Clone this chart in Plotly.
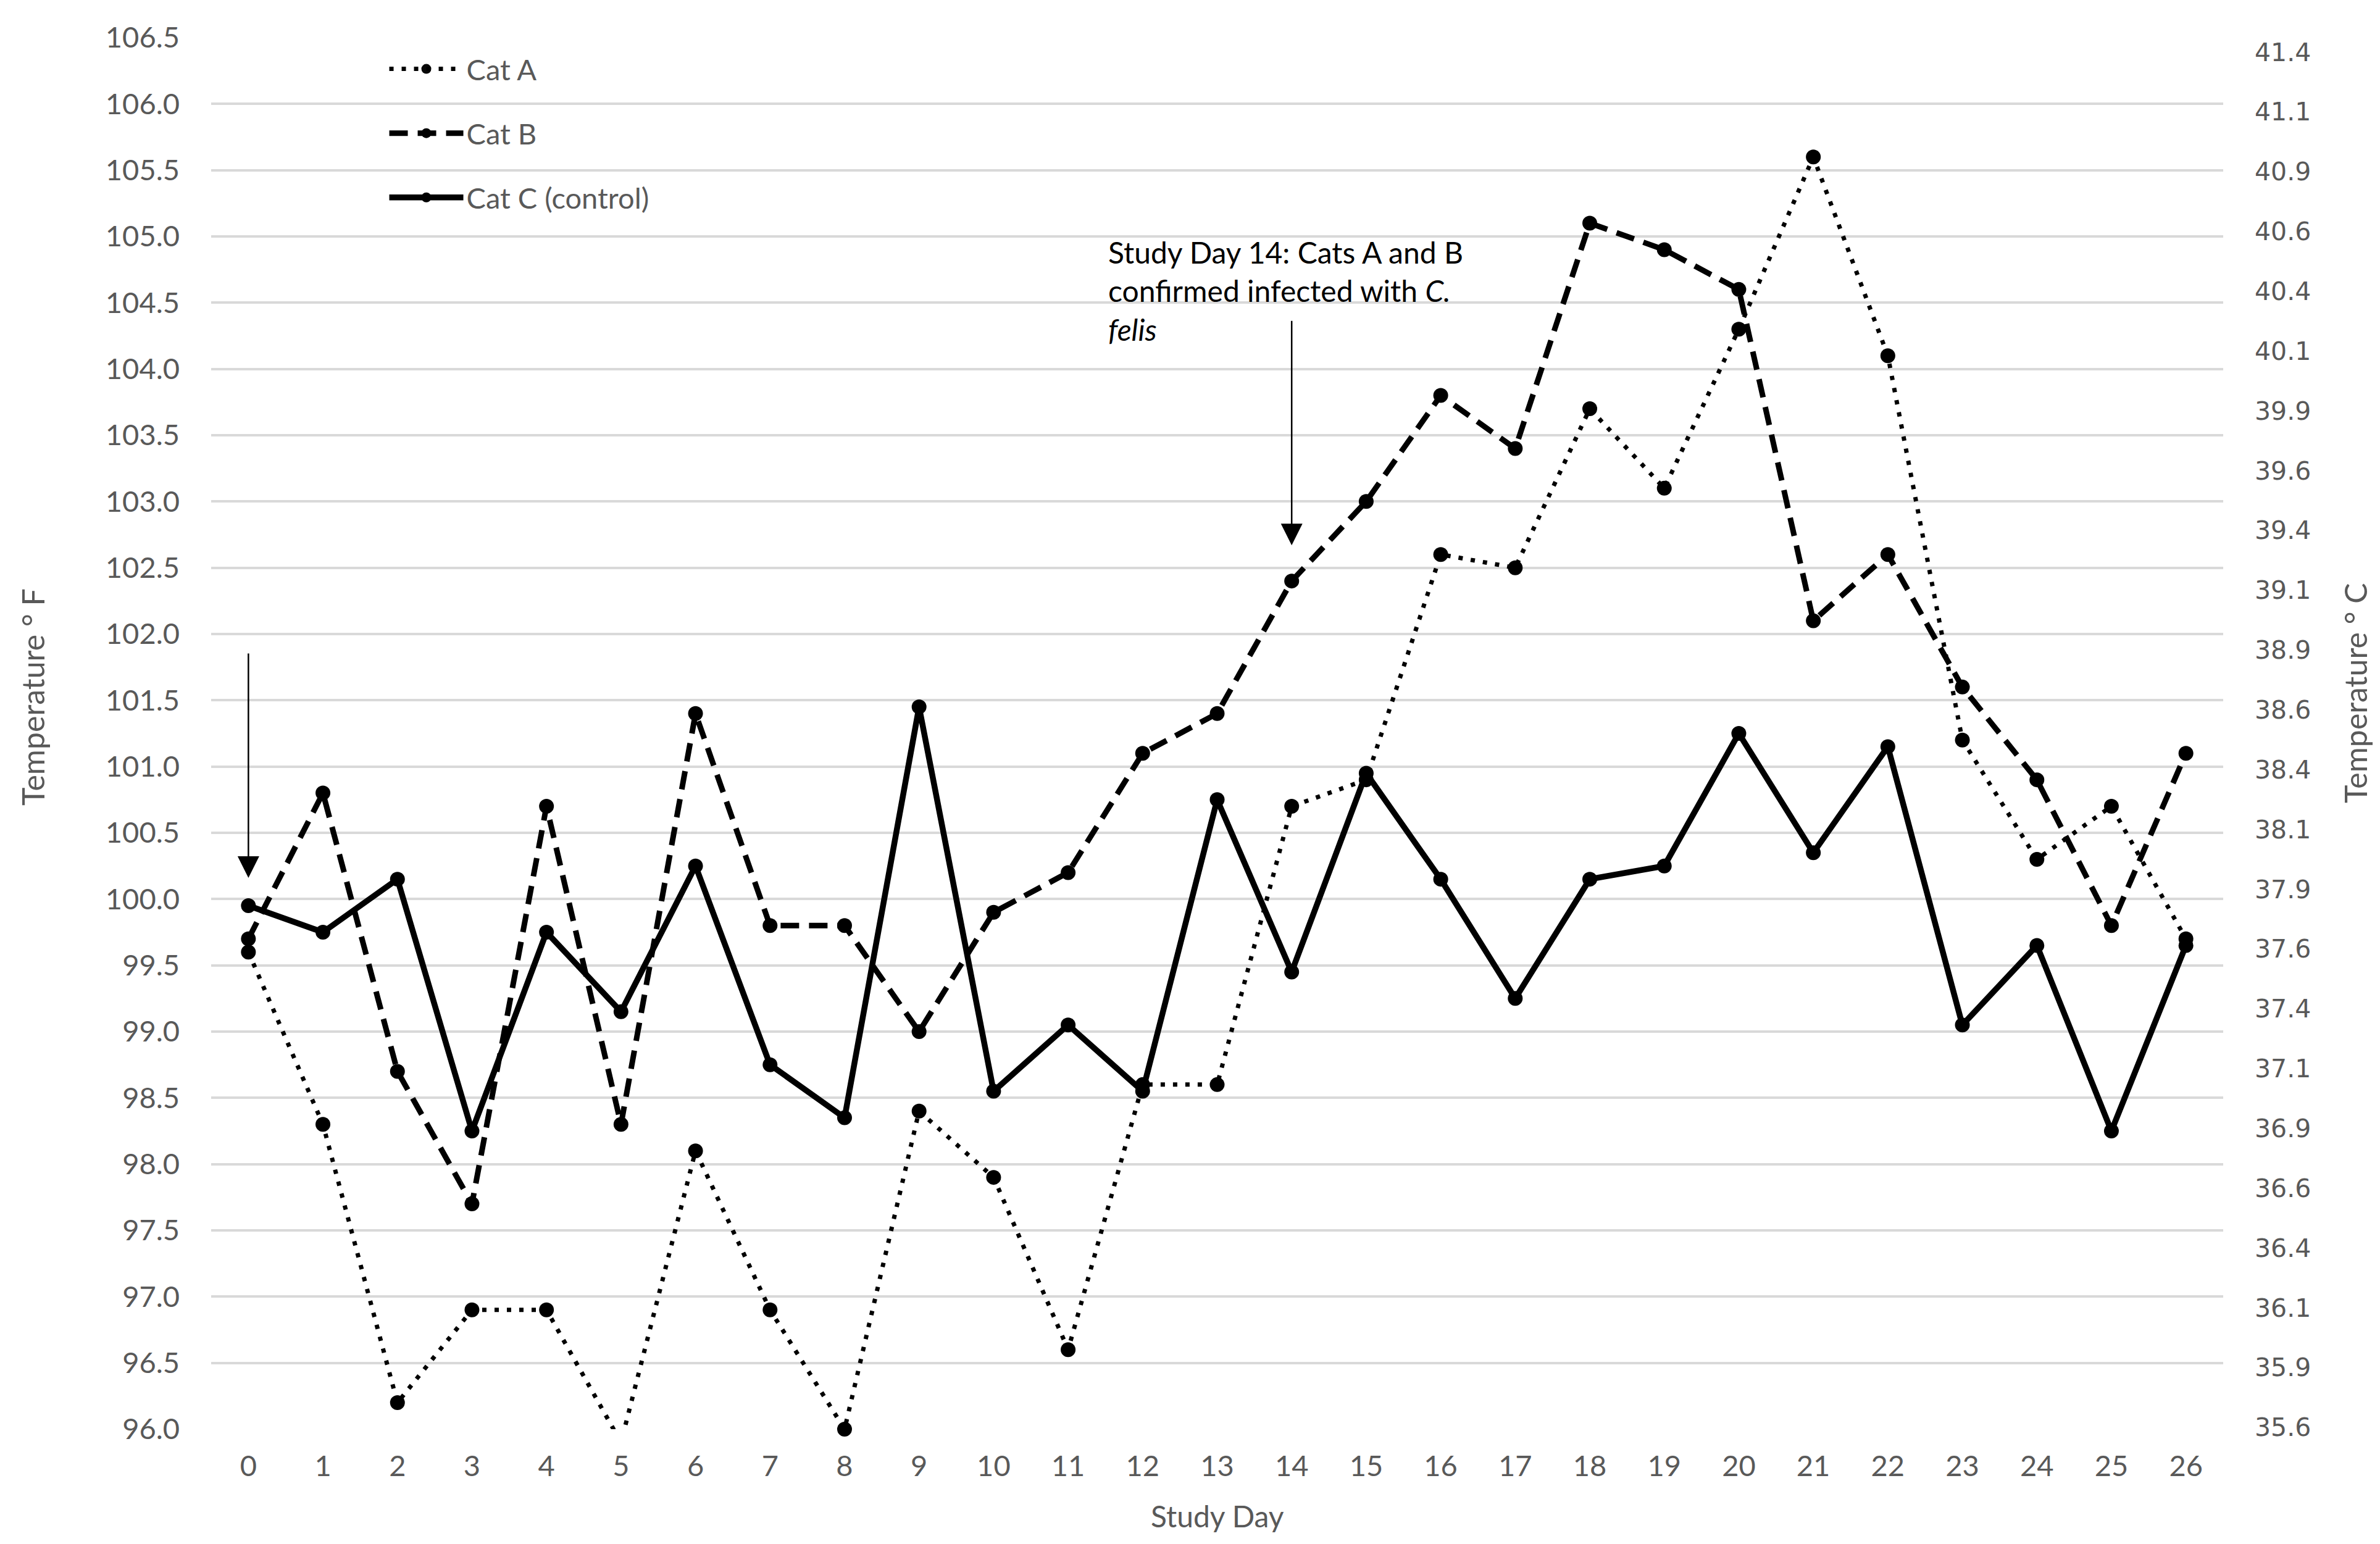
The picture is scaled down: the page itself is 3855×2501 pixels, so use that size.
import plotly.graph_objects as go

# ---------------- data ----------------
days = list(range(27))
cat_a = [99.6, 98.3, 96.2, 96.9, 96.9, 95.9, 98.1, 96.9, 96.0, 98.4, 97.9, 96.6, 98.6, 98.6,
         100.7, 100.9, 102.6, 102.5, 103.7, 103.1, 104.3, 105.6, 104.1, 101.2, 100.3, 100.7, 99.7]
cat_b = [99.7, 100.8, 98.7, 97.7, 100.7, 98.3, 101.4, 99.8, 99.8, 99.0, 99.9, 100.2, 101.1, 101.4,
         102.4, 103.0, 103.8, 103.4, 105.1, 104.9, 104.6, 102.1, 102.6, 101.6, 100.9, 99.8, 101.1]
cat_c = [99.95, 99.75, 100.15, 98.25, 99.75, 99.15, 100.25, 98.75, 98.35, 101.45, 98.55, 99.05, 98.55,
         100.75, 99.45, 100.95, 100.15, 99.25, 100.15, 100.25, 101.25, 100.35, 101.15, 99.05, 99.65,
         98.25, 99.65]
series_names = ["Cat A", "Cat B", "Cat C (control)"]

# right-hand (Celsius) axis tick labels
c_tick_vals = [41.4, 41.15, 40.9, 40.65, 40.4, 40.15, 39.9, 39.65, 39.4, 39.15, 38.9, 38.65,
               38.4, 38.15, 37.9, 37.65, 37.4, 37.15, 36.9, 36.65, 36.4, 36.15, 35.9, 35.65]
c_tick_text = ["41.4", "41.1", "40.9", "40.6", "40.4", "40.1", "39.9", "39.6", "39.4", "39.1",
               "38.9", "38.6", "38.4", "38.1", "37.9", "37.6", "37.4", "37.1", "36.9", "36.6",
               "36.4", "36.1", "35.9", "35.6"]

# arrows: (day, tail F, tip F)
arrow_marks = [(0, 101.86, 100.16), (14, 104.37, 102.67)]

# ---------------- styling ----------------
W, H = 3855, 2501
ML, MR, MT, MB = 334, 262, 53, 194
GRAY = "#595959"
FONT = "Lato"
Y_MIN, Y_MAX = 96.0, 106.5

fig = go.Figure()
styles = [
    dict(width=7, dash="7px,13px"),
    dict(width=9, dash="30px,16px"),
    dict(width=9.5, dash="solid"),
]
for name, vals, st in zip(series_names, [cat_a, cat_b, cat_c], styles):
    # like the source chart, markers outside the axis range are not drawn
    visible_marker = [1 if Y_MIN <= v <= Y_MAX else 0 for v in vals]
    fig.add_trace(go.Scatter(
        x=days, y=vals, name=name, mode="lines+markers",
        line=dict(color="black", width=st["width"], dash=st["dash"]),
        marker=dict(color="black", size=24, symbol="circle", opacity=visible_marker),
        legendgroup=name,
        cliponaxis=False,
    ))

# empty trace so the Celsius axis is drawn
fig.add_trace(go.Scatter(x=[], y=[], yaxis="y2", showlegend=False, hoverinfo="skip"))

annotations = []
for day, tail, tip in arrow_marks:
    annotations.append(dict(
        x=day, y=tip, ax=day, ay=tail, xref="x", yref="y", axref="x", ayref="y",
        text="", showarrow=True, arrowhead=2, arrowsize=2.8, arrowwidth=2.5,
        arrowcolor="black", standoff=0, startstandoff=0,
    ))

annotations.append(dict(
    xref="paper", yref="paper", x=0.4452, y=0.818, xanchor="left", yanchor="middle",
    align="left", showarrow=False,
    text="Study Day 14: Cats A and B<br>confirmed infected with <i>C.</i><br><i>felis</i>",
    font=dict(family=FONT, size=48, color="black"),
))
annotations.append(dict(
    xref="paper", yref="paper", x=-0.0885, y=0.526, xanchor="center", yanchor="middle",
    textangle=-90, showarrow=False, text="Temperature ° F",
    font=dict(family=FONT, size=50, color=GRAY),
))
annotations.append(dict(
    xref="paper", yref="paper", x=1.0655, y=0.529, xanchor="center", yanchor="middle",
    textangle=-90, showarrow=False, text="Temperature ° C",
    font=dict(family=FONT, size=50, color=GRAY),
))
annotations.append(dict(
    xref="paper", yref="paper", x=0.5, y=-0.0625, xanchor="center", yanchor="middle",
    showarrow=False, text="Study Day",
    font=dict(family=FONT, size=48, color=GRAY),
))

fig.update_layout(
    width=W, height=H,
    margin=dict(l=ML, r=MR, t=MT, b=MB, pad=0),
    paper_bgcolor="white", plot_bgcolor="white",
    font=dict(family=FONT, color=GRAY, size=46),
    showlegend=True,
    legend=dict(
        x=0.087, y=0.994, xanchor="left", yanchor="top",
        bgcolor="rgba(0,0,0,0)", borderwidth=0,
        font=dict(family=FONT, size=47, color=GRAY),
        itemwidth=120, tracegroupgap=40, traceorder="grouped",
    ),
    xaxis=dict(
        range=[-0.5, 26.5], tickmode="array", tickvals=days,
        ticktext=[str(d) for d in days],
        showgrid=False, zeroline=False, showline=False, ticks="",
        tickfont=dict(family=FONT, size=47, color=GRAY),
        ticklabelstandoff=28,
    ),
    yaxis=dict(
        range=[Y_MIN, Y_MAX], tick0=96.0, dtick=0.5, tickformat=".1f",
        showgrid=True, gridcolor="#d9d9d9", gridwidth=4,
        zeroline=False, showline=False, ticks="",
        tickfont=dict(family=FONT, size=47, color=GRAY),
        ticklabelstandoff=50,
    ),
    yaxis2=dict(
        overlaying="y", side="right", anchor="x",
        range=[35.642, 41.46], tickmode="array",
        tickvals=c_tick_vals, ticktext=c_tick_text,
        showgrid=False, zeroline=False, showline=False, ticks="",
        tickfont=dict(family="DejaVu Sans", size=41, color=GRAY),
        ticklabelstandoff=50,
    ),
    annotations=annotations,
)

fig.write_html("out.html")
